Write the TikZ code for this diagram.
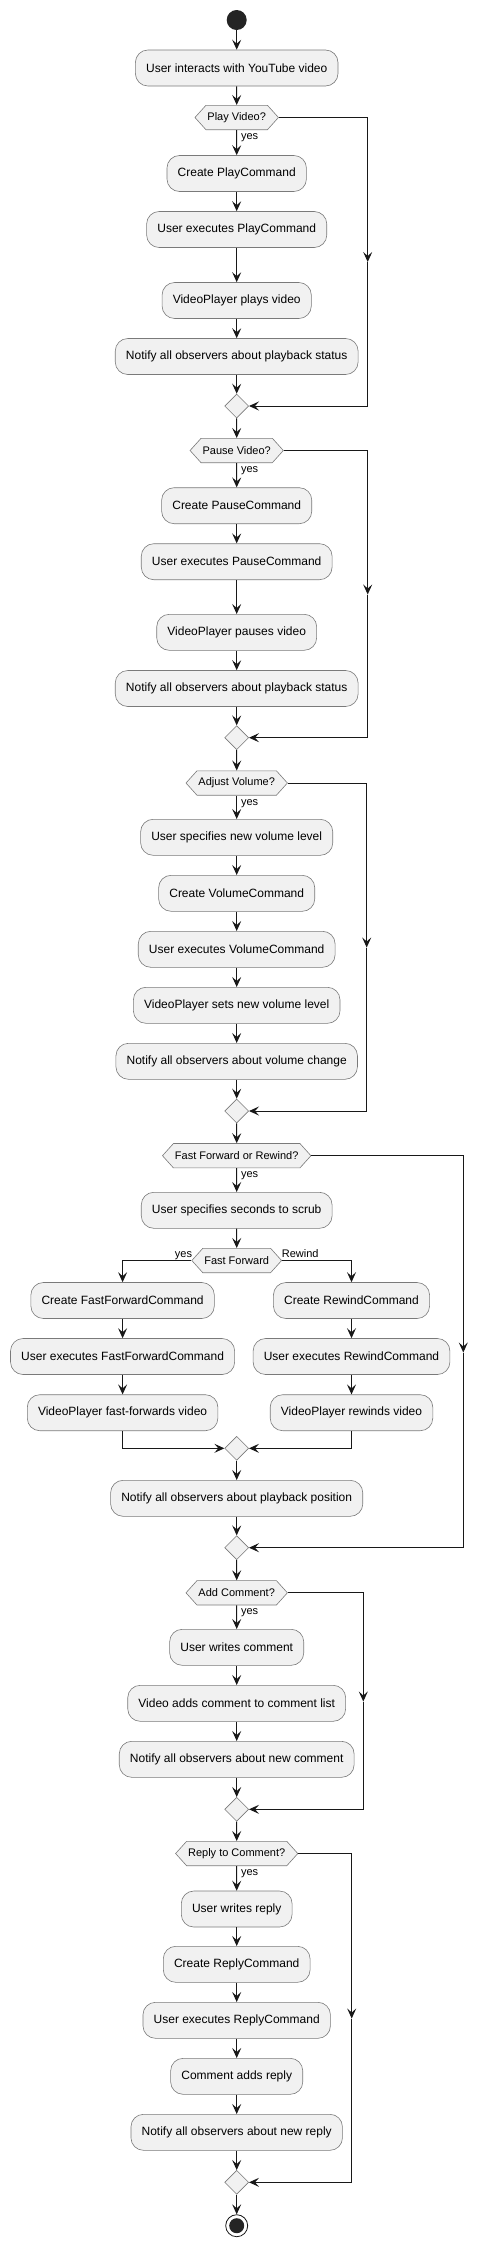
\documentclass[tikz,border=0pt]{standalone}
\usepackage{fontspec}
\setmainfont{Liberation Sans}
\usetikzlibrary{arrows.meta,shapes.geometric,shapes.symbols}
\definecolor{boxfill}{HTML}{F1F1F1}
\definecolor{edgecol}{HTML}{181818}
\definecolor{bordcol}{HTML}{7A7A7A}
\tikzset{
  act/.style={draw=bordcol, line width=0.6pt, fill=boxfill, rounded corners=12.5pt,
    minimum height=36pt, inner xsep=10.7pt, inner ysep=0pt, font=\fontsize{12}{14}\selectfont, text=black},
  dec/.style={shape=signal, signal to=east and west, signal pointer angle=96, draw=bordcol, line width=0.6pt,
    fill=boxfill, font=\fontsize{11}{13}\selectfont, minimum height=24.4pt, inner xsep=1.5pt, inner ysep=0pt, text=black},
  mrg/.style={shape=diamond, draw=bordcol, line width=0.6pt, fill=boxfill, minimum width=24pt, minimum height=24pt, inner sep=0pt},
  lbl/.style={font=\fontsize{11}{13}\selectfont, inner sep=0pt, text=black},
  arr/.style={draw=edgecol, line width=1pt, -{Stealth[length=10pt,width=9pt,inset=4pt]}},
  ln/.style={draw=edgecol, line width=1pt},
}
\begin{document}
\begin{tikzpicture}[x=1pt,y=-1pt]
\useasboundingbox (0,0) rectangle (488,2246);
% start
\node[circle, fill=edgecol!95, minimum size=20pt, inner sep=0pt] (start) at (236.7,20) {};
\node[act] (a1) at (236.7,68) {User interacts with YouTube video};
% block 1
\node[dec] (d1) at (236.7,117.5) {Play Video?};
\node[act] (a2) at (236.7,173.5) {Create PlayCommand};
\node[act] (a3) at (236.7,229.5) {User executes PlayCommand};
\node[act] (a4) at (236.7,300.5) {VideoPlayer plays video};
\node[act] (a5) at (236.7,356.5) {Notify all observers about playback status};
\node[mrg] (m1) at (236.7,406) {};
\coordinate (k1) at (367.7,262);
% block 2
\node[dec] (d2) at (236.7,450.5) {Pause Video?};
\node[act] (b1) at (236.7,505.7) {Create PauseCommand};
\node[act] (b2) at (236.7,561.7) {User executes PauseCommand};
\node[act] (b3) at (236.7,632.3) {VideoPlayer pauses video};
\node[act] (b4) at (236.7,688.5) {Notify all observers about playback status};
\node[mrg] (m2) at (236.7,737.7) {};
\coordinate (k2) at (367.7,594.5);
% block 3
\node[dec] (d3) at (236.7,783) {Adjust Volume?};
\node[act] (c1) at (236.7,837.3) {User specifies new volume level};
\node[act] (c2) at (236.7,893.3) {Create VolumeCommand};
\node[act] (c3) at (236.7,949.3) {User executes VolumeCommand};
\node[act] (c4) at (236.7,1005.3) {VideoPlayer sets new volume level};
\node[act] (c5) at (236.7,1061.3) {Notify all observers about volume change};
\node[mrg] (m3) at (236.7,1111) {};
\coordinate (k3) at (366.7,947.5);
% block 4
\node[dec] (d4) at (236.7,1155.7) {Fast Forward or Rewind?};
\node[act] (e1) at (236.7,1210.3) {User specifies seconds to scrub};
\node[dec] (d5) at (236.7,1260.5) {Fast Forward};
\node[act] (f1) at (122.6,1300.5) {Create FastForwardCommand};
\node[act] (f2) at (122.6,1356.5) {User executes FastForwardCommand};
\node[act] (f3) at (122.6,1412.7) {VideoPlayer fast-forwards video};
\node[act] (r1) at (351.5,1300.5) {Create RewindCommand};
\node[act] (r2) at (351.5,1356.5) {User executes RewindCommand};
\node[act] (r3) at (351.5,1412.7) {VideoPlayer rewinds video};
\node[mrg] (m4) at (236.7,1448.3) {};
\node[act] (e2) at (236.7,1498.3) {Notify all observers about playback position};
\node[mrg] (m5) at (236.7,1547.7) {};
\coordinate (k4) at (463.3,1352.5);
% block 5
\node[dec] (d6) at (236.7,1592.8) {Add Comment?};
\node[act] (g1) at (236.7,1647.3) {User writes comment};
\node[act] (g2) at (236.7,1703.3) {Video adds comment to comment list};
\node[act] (g3) at (236.7,1759.3) {Notify all observers about new comment};
\node[mrg] (m6) at (236.7,1809.3) {};
\coordinate (k5) at (363.3,1701.5);
% block 6
\node[dec] (d7) at (236.7,1853.5) {Reply to Comment?};
\node[act] (h1) at (236.7,1909) {User writes reply};
\node[act] (h2) at (236.7,1964.3) {Create ReplyCommand};
\node[act] (h3) at (236.7,2020.3) {User executes ReplyCommand};
\node[act] (h4) at (236.7,2076.3) {Comment adds reply};
\node[act] (h5) at (236.7,2132.3) {Notify all observers about new reply};
\node[mrg] (m7) at (236.7,2182.3) {};
\coordinate (k6) at (351.7,2018.5);
% end
\node[circle, draw=edgecol, line width=0.8pt, fill=white, minimum size=22pt, inner sep=0pt] (stop) at (236.7,2225.7) {};
\node[circle, fill=edgecol!95, minimum size=15pt, inner sep=0pt] at (stop.center) {};

% labels
\node[lbl, anchor=west] at (240.8,138) {yes};
\node[lbl, anchor=west] at (240.8,471) {yes};
\node[lbl, anchor=west] at (240.8,803.5) {yes};
\node[lbl, anchor=west] at (240.8,1176) {yes};
\node[lbl, anchor=west] at (240.8,1613) {yes};
\node[lbl, anchor=west] at (240.8,1874) {yes};
\node[lbl, anchor=base east] at (192.3,1257.5) {yes};
\node[lbl, anchor=base west] at (281.7,1257.5) {Rewind};

% connectors
\draw[arr] (start) -- (a1);
\draw[arr] (a1) -- (d1);
\draw[arr] (d1) -- (a2);
\draw[arr] (a2) -- (a3);
\draw[arr] (a3) -- (a4);
\draw[arr] (a4) -- (a5);
\draw[arr] (a5) -- (m1);
\draw[arr] (d1.east) -| (k1);
\draw[arr] (k1) |- (m1.east);
\draw[arr] (m1) -- (d2);
\draw[arr] (d2) -- (b1);
\draw[arr] (b1) -- (b2);
\draw[arr] (b2) -- (b3);
\draw[arr] (b3) -- (b4);
\draw[arr] (b4) -- (m2);
\draw[arr] (d2.east) -| (k2);
\draw[arr] (k2) |- (m2.east);
\draw[arr] (m2) -- (d3);
\draw[arr] (d3) -- (c1);
\draw[arr] (c1) -- (c2);
\draw[arr] (c2) -- (c3);
\draw[arr] (c3) -- (c4);
\draw[arr] (c4) -- (c5);
\draw[arr] (c5) -- (m3);
\draw[arr] (d3.east) -| (k3);
\draw[arr] (k3) |- (m3.east);
\draw[arr] (m3) -- (d4);
\draw[arr] (d4) -- (e1);
\draw[arr] (e1) -- (d5);
\draw[arr] (d5.west) -| (f1.north);
\draw[arr] (d5.east) -| (r1.north);
\draw[arr] (f1) -- (f2);
\draw[arr] (f2) -- (f3);
\draw[arr] (r1) -- (r2);
\draw[arr] (r2) -- (r3);
\draw[arr] (f3.south) |- (m4.west);
\draw[arr] (r3.south) |- (m4.east);
\draw[arr] (m4) -- (e2);
\draw[arr] (e2) -- (m5);
\draw[arr] (d4.east) -| (k4);
\draw[arr] (k4) |- (m5.east);
\draw[arr] (m5) -- (d6);
\draw[arr] (d6) -- (g1);
\draw[arr] (g1) -- (g2);
\draw[arr] (g2) -- (g3);
\draw[arr] (g3) -- (m6);
\draw[arr] (d6.east) -| (k5);
\draw[arr] (k5) |- (m6.east);
\draw[arr] (m6) -- (d7);
\draw[arr] (d7) -- (h1);
\draw[arr] (h1) -- (h2);
\draw[arr] (h2) -- (h3);
\draw[arr] (h3) -- (h4);
\draw[arr] (h4) -- (h5);
\draw[arr] (h5) -- (m7);
\draw[arr] (d7.east) -| (k6);
\draw[arr] (k6) |- (m7.east);
\draw[arr] (m7) -- (stop);
\end{tikzpicture}
\end{document}
